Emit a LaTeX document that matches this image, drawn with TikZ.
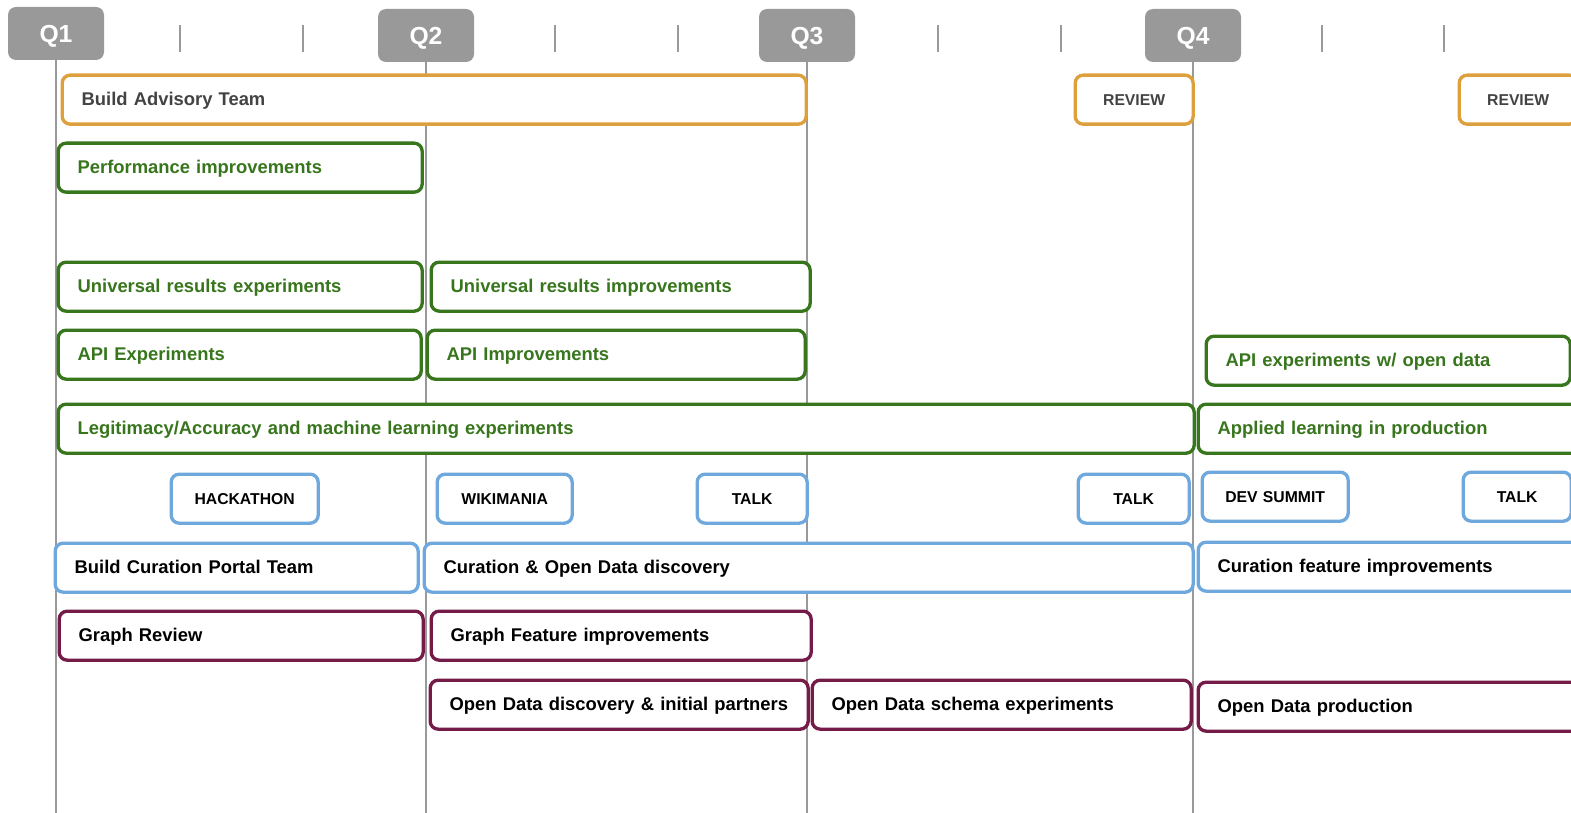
\documentclass[tikz,border=0pt]{standalone}
\usepackage{fontspec}
\setmainfont{Liberation Sans}
\usetikzlibrary{positioning}
\definecolor{qgray}{HTML}{999999}
\definecolor{advorange}{RGB}{221,160,60}
\definecolor{darkgreen}{HTML}{38761D}
\definecolor{lightblue}{HTML}{6FA8DC}
\definecolor{plum}{HTML}{741B47}
\definecolor{textgray}{HTML}{434343}
\tikzstyle{quarter}=[fill=qgray, rounded corners=6pt, minimum width=72pt, minimum height=39.75pt,
  text=white, font=\fontsize{18.5}{22}\selectfont\bfseries, inner sep=0pt,
  text height=13.2pt, text depth=0pt]
\tikzstyle{qline}=[qgray, line width=0.9pt]
\tikzstyle{tick}=[qgray, line width=1.2pt]
\tikzstyle{task}=[draw, fill=white, rounded corners=6pt, line width=2.5pt, minimum height=36.75pt,
  inner xsep=14.6pt, inner ysep=0pt, align=left, text height=9.9pt, text depth=1.5pt,
  font=\fontsize{13.8}{16}\selectfont\bfseries]
\tikzstyle{event}=[task, align=center, text height=8.5pt, text depth=0pt,
  font=\fontsize{11.8}{14}\selectfont\bfseries]
\tikzstyle{advisory}=[draw=advorange, text=textgray]
\tikzstyle{learning}=[draw=darkgreen, text=darkgreen]
\tikzstyle{curation}=[draw=lightblue, text=black]
\tikzstyle{opendata}=[draw=plum, text=black]
% #1 style, #2 name, #3 left, #4 right, #5 top, #6 text
\newcommand{\taskbar}[6]{%
  \node[#1, anchor=north west, minimum width={(#4-#3-3)*0.75pt},
    text width={(#4-#3-3)*0.75pt-29.2pt}] (#2) at (#3+1.5,#5+1.5) {\mbox{#6}};}

\begin{document}
\begin{tikzpicture}[x=0.75pt, y=-0.75pt]
  \fill[white] (0,0) rectangle (1571,813);
  \useasboundingbox (0,0) rectangle (1571,813);
  \clip (0,0) rectangle (1571,813);
  \coordinate (bottom) at (0,813);

  \node[quarter] (q1) at (56,33.5) {Q1};
  \node[quarter] (q2) at (426,35.5) {Q2};
  \node[quarter] (q3) at (807,35.5) {Q3};
  \node[quarter] (q4) at (1193,35.5) {Q4};
  \foreach \q in {q1,q2,q3,q4}
    \draw[qline] (\q.south) -- (\q.south |- bottom);
  \foreach \x in {180,303,555,678,938,1061,1322,1444}
    \draw[tick] (\x,25) -- (\x,52);

  \taskbar{task, advisory}{advisoryteam}{59}{806}{72}{Build Advisory Team}
  \taskbar{event, advisory}{reviewa}{1072}{1193}{72}{REVIEW}
  \taskbar{event, advisory}{reviewb}{1456}{1577}{72}{REVIEW}

  \taskbar{task, learning}{performance}{55}{422}{140}{Performance improvements}
  \taskbar{task, learning}{universalexp}{55}{422}{259}{Universal results experiments}
  \taskbar{task, learning}{universalimp}{428}{810}{259}{Universal results improvements}
  \taskbar{task, learning}{apiexp}{55}{421}{327}{API Experiments}
  \taskbar{task, learning}{apiimp}{424}{805}{327}{API Improvements}
  \taskbar{task, learning}{apiopen}{1203}{1570}{333}{API experiments w/ open data}
  \taskbar{task, learning}{legitimacy}{55}{1194}{401}{Legitimacy/Accuracy and machine learning experiments}
  \taskbar{task, learning}{applied}{1195}{1580}{401}{Applied learning in production}

  \taskbar{event, curation}{hackathon}{168}{318}{471}{HACKATHON}
  \taskbar{event, curation}{wikimania}{434}{572}{471}{WIKIMANIA}
  \taskbar{event, curation}{talka}{694}{807}{471}{TALK}
  \taskbar{event, curation}{talkb}{1075}{1189}{471}{TALK}
  \taskbar{event, curation}{devsummit}{1199}{1348}{469}{DEV SUMMIT}
  \taskbar{event, curation}{talkc}{1460}{1571}{469}{TALK}

  \taskbar{task, curation}{portalteam}{52}{418}{540}{Build Curation Portal Team}
  \taskbar{task, curation}{curationdisc}{421}{1193}{540}{Curation \& Open Data discovery}
  \taskbar{task, curation}{curationfeat}{1195}{1580}{539}{Curation feature improvements}

  \taskbar{task, opendata}{graphreview}{56}{423}{608}{Graph Review}
  \taskbar{task, opendata}{graphfeat}{428}{811}{608}{Graph Feature improvements}
  \taskbar{task, opendata}{oddiscovery}{427}{808}{677}{Open Data discovery \& initial partners}
  \taskbar{task, opendata}{odschema}{809}{1191}{677}{Open Data schema experiments}
  \taskbar{task, opendata}{odproduction}{1195}{1580}{679}{Open Data production}
\end{tikzpicture}
\end{document}
